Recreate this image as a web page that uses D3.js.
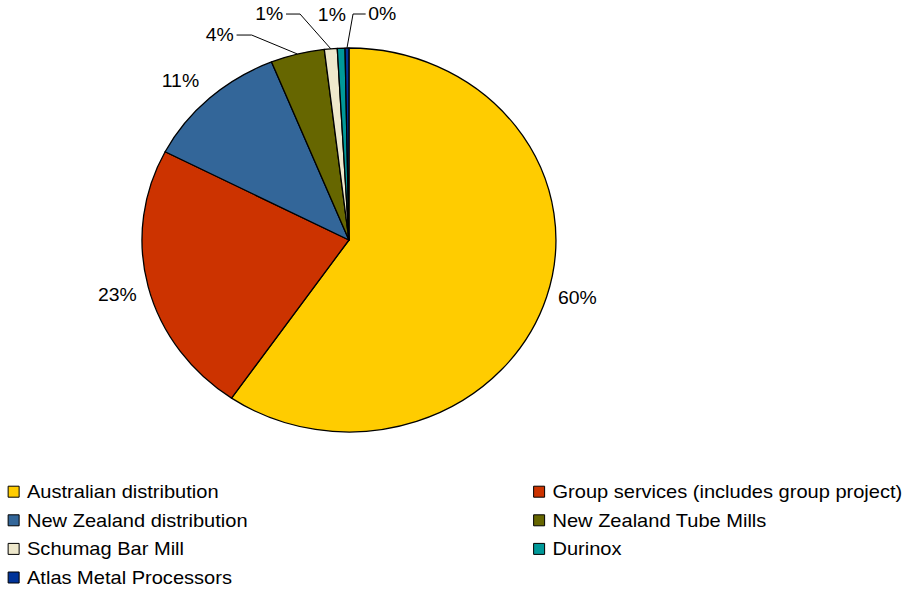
<!DOCTYPE html>
<html>
<head>
<meta charset="utf-8">
<script src="https://cdn.jsdelivr.net/npm/d3@7"></script>
<style>
  html, body { margin: 0; padding: 0; background: #ffffff; }
  svg { display: block; }
  text { font-family: "Liberation Sans", Arial, sans-serif; fill: #000; }
</style>
</head>
<body>
<svg id="chart" width="904" height="589"></svg>
<script>
// ---- data ----
const categories = [
  "Australian distribution",
  "Group services (includes group project)",
  "New Zealand distribution",
  "New Zealand Tube Mills",
  "Schumag Bar Mill",
  "Durinox",
  "Atlas Metal Processors"
];
const shares = [59.6, 23.0, 11.3, 4.2, 1.0, 0.6, 0.3];
const colors = ["#FFCC00", "#CC3300", "#336699", "#666600", "#EEE8CC", "#009999", "#003399"];

// ---- layout (not data) ----
const W = 904, H = 589;
const stretchX = 1.078;           // chart is horizontally stretched
const cx = 323.7, cy = 240, R = 192;
const fontSize = 18;
const legendFontSize = 18.6;
const capMid = 6.4;               // baseline offset from cap-height centre
// label placement mode per slice
const labelSpec = [
  { mode: "radial", nudge: [-2, -6] },
  { mode: "radial", nudge: [2.5, 2.5] },
  { mode: "radial", nudge: [-6, -2] },
  { mode: "leader", elbow: [-42.5, -19], run: 14, side: -1 },
  { mode: "leader", elbow: [-28.5, -34.7], run: 13, side: -1 },
  { mode: "above", offset: [-8.6, -27.4] },
  { mode: "leader", elbow: [5.6, -34], run: 11.7, side: 1 }
];

const svg = d3.select("#chart");
const g = svg.append("g").attr("transform", `scale(${stretchX},1)`);

const total = d3.sum(shares);
const data = categories.map((c, i) => ({ name: c, value: shares[i], color: colors[i], i }));

const pie = d3.pie().sort(null).value(d => d.value).startAngle(0).endAngle(2 * Math.PI);
const arcs = pie(data);
const arc = d3.arc().innerRadius(0).outerRadius(R);

const pieG = g.append("g").attr("transform", `translate(${cx},${cy})`);
pieG.selectAll("path.slice")
  .data(arcs)
  .enter().append("path")
  .attr("class", "slice")
  .attr("d", arc)
  .attr("fill", d => d.data.color)
  .attr("stroke", "#000")
  .attr("stroke-width", 1.3)
  .attr("stroke-linejoin", "round")
  .attr("vector-effect", "non-scaling-stroke");

// ---- labels ----
const labelsG = pieG.append("g");
arcs.forEach((a, i) => {
  const mid = (a.startAngle + a.endAngle) / 2;
  const ux = Math.sin(mid), uy = -Math.cos(mid);
  const px = ux * R, py = uy * R;
  const txt = Math.round(a.data.value / total * 100) + "%";
  const spec = labelSpec[i];
  const t = labelsG.append("text").attr("font-size", fontSize).text(txt);
  if (spec.mode === "radial") {
    const bb = t.node().getBBox();
    const hw = bb.width / 2, hh = 7;
    const d = 14;
    const lx = px + ux * d + ux * hw + spec.nudge[0];
    const ly = py + uy * d + uy * hh + spec.nudge[1];
    t.attr("text-anchor", "middle").attr("x", lx).attr("y", ly + capMid);
  } else if (spec.mode === "above") {
    t.attr("text-anchor", "middle")
      .attr("x", px + spec.offset[0])
      .attr("y", py + spec.offset[1]);
  } else {
    const ex = px + spec.elbow[0], ey = py + spec.elbow[1];
    const hx = ex + spec.side * spec.run;
    labelsG.append("polyline")
      .attr("points", [[px, py], [ex, ey], [hx, ey]].map(p => p.join(",")).join(" "))
      .attr("fill", "none")
      .attr("stroke", "#000")
      .attr("stroke-width", 1)
      .attr("vector-effect", "non-scaling-stroke");
    t.attr("text-anchor", spec.side < 0 ? "end" : "start")
      .attr("x", hx + spec.side * 2.5)
      .attr("y", ey + capMid);
  }
});

// ---- legend ----
const legTextOff = 17.5;
const legCols = [25.05 - legTextOff, 512.5 - legTextOff];
const legRow0 = 498, legStep = 28.6;
const sq = 11;
const legG = g.append("g");
data.forEach((d, i) => {
  const col = i % 2, row = Math.floor(i / 2);
  const x = legCols[col], y = legRow0 + row * legStep;
  legG.append("rect")
    .attr("x", x).attr("y", y - 11.8)
    .attr("width", sq / stretchX).attr("height", sq)
    .attr("fill", d.color)
    .attr("stroke", "#000")
    .attr("stroke-width", 1)
    .attr("vector-effect", "non-scaling-stroke");
  legG.append("text")
    .attr("x", x + legTextOff).attr("y", y)
    .attr("font-size", legendFontSize)
    .text(d.name);
});
</script>
</body>
</html>
